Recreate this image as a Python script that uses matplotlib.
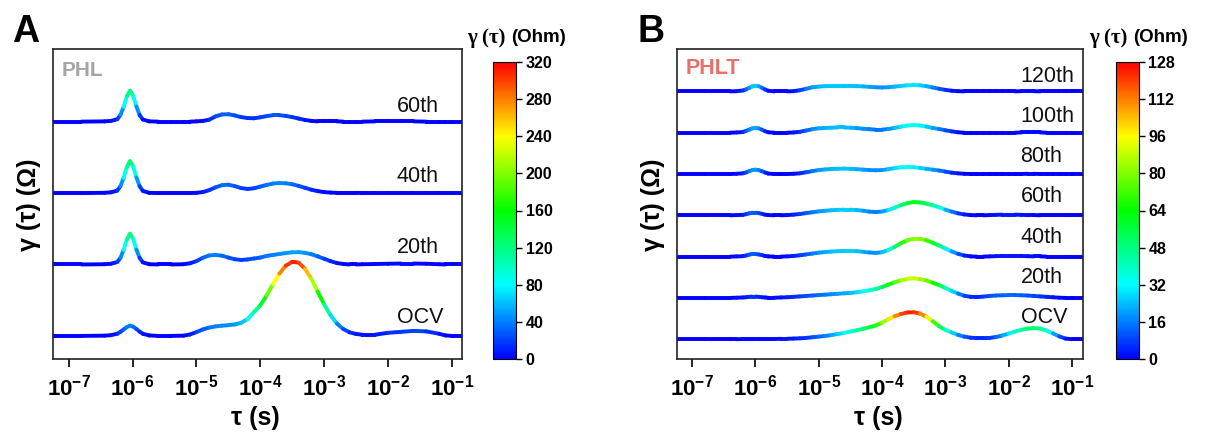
import numpy as np
import matplotlib.pyplot as plt
from matplotlib.collections import LineCollection
from matplotlib.colors import Normalize, LinearSegmentedColormap
from matplotlib.cm import ScalarMappable

plt.rcParams['font.family'] = ['Liberation Sans', 'DejaVu Sans']
plt.rcParams['mathtext.fontset'] = 'custom'
plt.rcParams['mathtext.bf'] = 'Liberation Sans:bold'
plt.rcParams['mathtext.rm'] = 'Liberation Sans'

# =========================================================
# Data: DRT curves, gamma(tau) in Ohm vs log10(tau / s)
# =========================================================
# ---- panel A (PHL) ----
logtau_a = [
    -7.24, -6.8, -6.44, -6.34, -6.24, -6.19, -6.14, -6.09, -6.04, -5.99,
    -5.94, -5.89, -5.84, -5.74, -5.6, -5.4, -5.2, -5.1, -5.0, -4.9,
    -4.8, -4.7, -4.6, -4.5, -4.4, -4.3, -4.2, -4.1, -4.0, -3.9,
    -3.8, -3.7, -3.6, -3.5, -3.4, -3.3, -3.2, -3.1, -3.0, -2.9,
    -2.8, -2.7, -2.6, -2.5, -2.4, -2.2, -2.0, -1.8, -1.6, -1.4,
    -1.2, -1.1, -1.0, -0.84,
]
phl_ocv = [
    0, 0, 1, 3, 9, 17, 27, 37, 43, 39,
    29, 18, 9, 2, 0, 0, 1, 6, 16, 27,
    35, 40, 43, 45, 48, 55, 70, 100, 128, 170,
    218, 262, 295, 311, 308, 282, 240, 186, 133, 87,
    52, 29, 15, 8, 5, 5, 13, 17, 21, 19,
    9, 2, 0, 0,
]
phl_20 = [
    0, 0, 1, 3, 10, 28, 61, 105, 129, 107,
    63, 28, 9, 1, 0, 0, 1, 5, 14, 28,
    38, 40, 37, 29, 22, 19, 21, 25, 29, 36,
    40, 44, 48, 51, 52, 49, 43, 34, 24, 14,
    6, 2, 0, 0, 1, 2, 3, 4, 4, 3,
    1, 0, 0, 0,
]
phl_40 = [
    0, 0, 1, 3, 10, 29, 64, 109, 134, 111,
    66, 29, 9, 1, 0, 0, 0, 0, 1, 4,
    12, 24, 33, 35, 29, 21, 17, 20, 27, 34,
    40, 42, 41, 37, 30, 22, 14, 8, 4, 2,
    1, 1, 1, 1, 0, 0, 0, 0, 0, 0,
    0, 0, 0, 0,
]
phl_60 = [
    0, 0, 1, 3, 10, 28, 62, 106, 130, 108,
    64, 28, 9, 1, 0, 0, 0, 0, 1, 3,
    8, 22, 30, 31, 26, 19, 15, 14, 18, 23,
    27, 27, 24, 19, 13, 7, 3, 1, 1, 1,
    1, 0, 0, 0, 0, 1, 1, 1, 1, 0,
    0, 0, 0, 0,
]
labels_a = ["OCV", "20th", "40th", "60th"]

# ---- panel B (PHLT) ----
logtau_b = [
    -7.24, -6.8, -6.4, -6.3, -6.2, -6.15, -6.1, -6.05, -6.0, -5.95,
    -5.9, -5.85, -5.8, -5.7, -5.6, -5.5, -5.4, -5.3, -5.2, -5.1,
    -5.0, -4.9, -4.8, -4.7, -4.6, -4.5, -4.4, -4.3, -4.2, -4.1,
    -4.0, -3.9, -3.8, -3.7, -3.6, -3.5, -3.4, -3.3, -3.2, -3.1,
    -3.0, -2.9, -2.8, -2.7, -2.6, -2.5, -2.4, -2.3, -2.2, -2.1,
    -2.0, -1.9, -1.8, -1.7, -1.6, -1.5, -1.4, -1.3, -1.2, -1.1,
    -1.0, -0.83,
]
phlt_ocv = [
    0, 0, 0, 0, 1, 1, 1, 1, 1, 1,
    1, 1, 1, 1, 2, 2, 3, 4, 6, 9,
    12, 15, 19, 24, 29, 35, 41, 48, 55, 63,
    76, 92, 106, 116, 123, 124, 118, 104, 83, 60,
    43, 31, 20, 12, 7, 5, 5, 6, 10, 17,
    26, 35, 43, 49, 51, 49, 40, 27, 13, 3,
    0, 0,
]
phlt_20 = [
    0, 0, 0, 1, 2, 3, 5, 6, 6, 5,
    3, 2, 1, 1, 2, 3, 5, 7, 9, 11,
    13, 15, 17, 19, 21, 23, 26, 30, 35, 41,
    50, 61, 72, 81, 88, 90, 87, 80, 70, 59,
    46, 32, 20, 10, 5, 4, 6, 9, 11, 12,
    13, 13, 12, 11, 9, 7, 5, 3, 1, 0,
    0, 0,
]
phlt_40 = [
    0, 0, 0, 1, 2, 5, 9, 12, 12, 10,
    7, 3, 1, 0, 0, 1, 3, 6, 10, 14,
    18, 21, 23, 25, 26, 26, 25, 22, 19, 17,
    20, 30, 45, 62, 75, 82, 82, 75, 64, 51,
    37, 24, 13, 5, 1, 0, 0, 1, 2, 3,
    3, 3, 3, 2, 1, 1, 0, 0, 0, 0,
    0, 0,
]
phlt_60 = [
    0, 0, 0, 1, 2, 5, 9, 12, 12, 10,
    7, 3, 1, 0, 0, 1, 3, 6, 10, 14,
    18, 21, 23, 25, 26, 26, 24, 21, 17, 15,
    17, 24, 35, 47, 56, 61, 59, 54, 46, 37,
    26, 17, 9, 4, 1, 0, 0, 1, 2, 3,
    3, 3, 2, 1, 1, 0, 0, 0, 0, 0,
    0, 0,
]
phlt_80 = [
    0, 0, 0, 1, 3, 7, 13, 18, 20, 18,
    13, 7, 2, 0, 0, 0, 1, 3, 8, 13,
    18, 21, 23, 24, 25, 24, 22, 20, 18, 17,
    18, 22, 27, 31, 32, 31, 28, 24, 20, 16,
    11, 6, 3, 1, 0, 0, 0, 0, 0, 0,
    0, 0, 0, 1, 1, 0, 0, 0, 0, 0,
    0, 0,
]
phlt_100 = [
    0, 0, 0, 1, 3, 8, 14, 20, 22, 20,
    14, 7, 2, 0, 0, 0, 1, 4, 10, 16,
    20, 22, 23, 24, 24, 23, 21, 18, 16, 14,
    14, 17, 22, 28, 33, 35, 33, 28, 22, 17,
    11, 6, 2, 0, 0, 0, 0, 0, 0, 0,
    0, 0, 1, 1, 1, 1, 0, 0, 0, 0,
    0, 0,
]
phlt_120 = [
    0, 0, 0, 1, 4, 9, 16, 23, 26, 24,
    17, 9, 3, 0, 0, 0, 1, 5, 12, 19,
    22, 24, 25, 25, 25, 25, 24, 23, 21, 19,
    18, 19, 22, 25, 28, 29, 28, 24, 18, 12,
    7, 3, 1, 0, 0, 0, 0, 0, 0, 0,
    0, 0, 1, 1, 1, 0, 0, 0, 0, 0,
    0, 0,
]
labels_b = ["OCV", "20th", "40th", "60th", "80th", "100th", "120th"]

# blue -> cyan -> green -> yellow -> red, as in the reference colour bars
drt_cmap = LinearSegmentedColormap.from_list(
    "drt", ["#0000ff", "#00ffff", "#00ff00", "#ffff00", "#ff0000"])

# =========================================================
# Layout helpers (pixel -> figure fraction)
# =========================================================
W, H = 1206, 437
fig = plt.figure(figsize=(W / 100, H / 100), dpi=100)


def rect(l, t, r, b):
    return [l / W, 1 - b / H, (r - l) / W, (b - t) / H]


def fx(x):
    return x / W


def fy(y):
    return 1 - y / H


def colored_line(ax, lt, g, offset, norm):
    x = 10.0 ** np.asarray(lt)
    g = np.asarray(g, dtype=float)
    pts = np.column_stack([x, g + offset])
    segs = np.stack([pts[:-1], pts[1:]], axis=1)
    lc = LineCollection(segs, cmap=drt_cmap, norm=norm, linewidths=2.8,
                        capstyle="round", joinstyle="round")
    lc.set_array(0.5 * (g[:-1] + g[1:]))
    ax.add_collection(lc)


def draw_panel(ax, cax, lt, curves, labels, vmax, step, ylim,
               lab_x, lab_y0, lab_step, cticks):
    norm = Normalize(vmin=0, vmax=vmax)
    for i, g in enumerate(curves):
        colored_line(ax, lt, g, i * step, norm)
        ax.text(10 ** lab_x, lab_y0 + i * lab_step, labels[i], ha="left",
                va="baseline", fontsize=15.5, color="#111111")

    ax.set_xscale("log")
    ax.set_xlim(10 ** lt[0], 10 ** lt[-1])
    ax.set_ylim(*ylim)
    ax.set_xticks([10.0 ** k for k in range(-7, 0)])
    ax.set_xticklabels([rf"$\mathbf{{10^{{{k}}}}}$" for k in range(-7, 0)])
    ax.minorticks_off()
    ax.set_yticks([])
    ax.tick_params(axis="x", direction="out", length=6, width=1.2,
                   labelsize=16, pad=5)
    for sp in ax.spines.values():
        sp.set_linewidth(1.2)
        sp.set_color("#222222")

    sm = ScalarMappable(norm=norm, cmap=drt_cmap)
    cb = fig.colorbar(sm, cax=cax, ticks=cticks)
    cb.outline.set_linewidth(0.8)
    cax.tick_params(length=4, width=1, labelsize=11.5, pad=3)
    for t in cax.get_yticklabels():
        t.set_fontweight("bold")


# =========================================================
# Panel A
# =========================================================
ax_a = fig.add_axes(rect(53.4, 49, 462, 359))
cax_a = fig.add_axes(rect(493, 62, 516, 359))
draw_panel(ax_a, cax_a, logtau_a, [phl_ocv, phl_20, phl_40, phl_60],
           labels_a, 320, 300, (-97, 1205), -1.86, 53, 296,
           np.arange(0, 321, 40))
ax_a.text(0.021, 0.932, "PHL", transform=ax_a.transAxes, fontsize=15,
          fontweight="bold", color="#a6a6a6", va="center", ha="left")

# =========================================================
# Panel B
# =========================================================
ax_b = fig.add_axes(rect(677, 49, 1082.6, 359))
cax_b = fig.add_axes(rect(1115.5, 62, 1138.7, 359))
draw_panel(ax_b, cax_b, logtau_b,
           [phlt_ocv, phlt_20, phlt_40, phlt_60, phlt_80, phlt_100, phlt_120],
           labels_b, 128, 190, (-91, 1335), -1.81, 74, 185,
           np.arange(0, 129, 16))
ax_b.text(0.022, 0.938, "PHLT", transform=ax_b.transAxes, fontsize=15.5,
          fontweight="bold", color="#e8706b", va="center", ha="left")

# =========================================================
# Labels
# =========================================================
for cx, ylx, letter, lx, cbx in [(255, 29, "A", 12, 508), (878, 653, "B", 637, 1130)]:
    fig.text(fx(cx), fy(418), "τ (s)", ha="center", va="center",
             fontsize=18, fontweight="bold")
    fig.text(fx(ylx), fy(205), "γ (τ) (Ω)", ha="center", va="center",
             rotation=90, fontsize=18, fontweight="bold")
    fig.text(fx(lx), fy(42), letter, ha="left", va="baseline",
             fontsize=27, fontweight="bold")
    fig.text(fx(cbx - 3), fy(38), "γ (τ)", ha="right", va="center",
             fontsize=15, fontweight="bold",
             family=["Liberation Serif", "DejaVu Serif"])
    fig.text(fx(cbx + 3), fy(38), "(Ohm)", ha="left", va="center",
             fontsize=13.5, fontweight="bold")

fig.savefig("out.png", dpi=100)
